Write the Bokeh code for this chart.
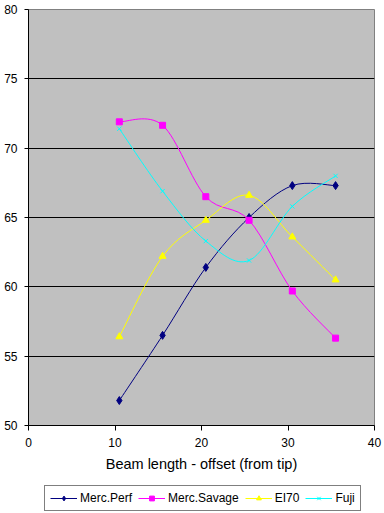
from bokeh.plotting import figure
from bokeh.models import Range1d, FixedTicker, Legend, LegendItem
from bokeh.layouts import column
from bokeh.embed import file_html
from bokeh.resources import INLINE

# ---- data ----
beam_x = [10.5, 15.5, 20.5, 25.5, 30.5, 35.5]
merc_perf = [51.8, 56.5, 61.4, 65.0, 67.3, 67.3]
merc_savage = [71.9, 71.65, 66.5, 64.8, 59.7, 56.3]
ei70 = [56.4, 62.2, 64.8, 66.6, 63.6, 60.5]
fuji = [71.4, 66.9, 63.3, 61.9, 65.8, 68.0]
series_names = ["Merc.Perf", "Merc.Savage", "EI70", "Fuji"]
x_ticks = [0, 10, 20, 30, 40]
y_ticks = [50, 55, 60, 65, 70, 75, 80]
grid_ticks = [55, 60, 65, 70, 75]

FONT = "Liberation Sans"


def smooth_segments(xs, ys):
    """Bezier segments (Catmull-Rom style, like a spreadsheet's smoothed line)."""
    n = len(xs)
    out = dict(x0=[], y0=[], x1=[], y1=[], cx0=[], cy0=[], cx1=[], cy1=[])
    for i in range(n - 1):
        a = i - 1 if i > 0 else i
        d = i + 2 if i + 2 < n else i + 1
        out["x0"].append(xs[i]); out["y0"].append(ys[i])
        out["x1"].append(xs[i + 1]); out["y1"].append(ys[i + 1])
        out["cx0"].append(xs[i] + (xs[i + 1] - xs[a]) / 6.0)
        out["cy0"].append(ys[i] + (ys[i + 1] - ys[a]) / 6.0)
        out["cx1"].append(xs[i + 1] - (xs[d] - xs[i]) / 6.0)
        out["cy1"].append(ys[i + 1] - (ys[d] - ys[i]) / 6.0)
    return out


p = figure(width=384, height=475,
           output_backend="svg", toolbar_location=None,
           x_range=Range1d(0, 40), y_range=Range1d(50, 80),
           min_border_left=28, min_border_right=10, min_border_top=9,
           min_border_bottom=50)

p.background_fill_color = "#C0C0C0"
p.border_fill_color = "white"
p.outline_line_color = "#808080"
p.outline_line_width = 1

p.xgrid.visible = False
p.ygrid.ticker = FixedTicker(ticks=grid_ticks)
p.ygrid.grid_line_color = "black"
p.ygrid.grid_line_width = 1

for ax in (p.xaxis[0], p.yaxis[0]):
    ax.axis_line_color = "black"
    ax.major_tick_line_color = "black"
    ax.minor_tick_line_color = None
    ax.major_tick_in = 0
    ax.major_label_text_font = FONT
    ax.major_label_text_font_size = "12px"
    ax.major_label_text_color = "black"

p.xaxis[0].ticker = FixedTicker(ticks=x_ticks)
p.yaxis[0].ticker = FixedTicker(ticks=y_ticks)
p.xaxis[0].major_tick_out = 5
p.yaxis[0].major_tick_out = 4
p.xaxis[0].major_label_standoff = 7
p.yaxis[0].major_label_standoff = 7
p.xaxis[0].axis_label = "Beam length - offset (from tip)"
p.xaxis[0].axis_label_text_font = FONT
p.xaxis[0].axis_label_text_font_size = "14.5px"
p.xaxis[0].axis_label_text_font_style = "normal"
p.xaxis[0].axis_label_text_color = "black"
p.xaxis[0].axis_label_standoff = 6

styles = [
    ("#000080", "diamond", 8),
    ("#FF00FF", "square", 6),
    ("#FFFF00", "triangle", 7),
    ("#00FFFF", "x", 6),
]
all_series = [merc_perf, merc_savage, ei70, fuji]

# legend strip (a second, axis-less figure under the chart)
lf = figure(width=384, height=38, output_backend="svg", toolbar_location=None,
            x_range=Range1d(-200, -199), y_range=Range1d(-200, -199),
            min_border=0, x_axis_type=None, y_axis_type=None)
lf.outline_line_color = None
lf.background_fill_color = "white"
lf.border_fill_color = "white"
lf.xgrid.visible = False
lf.ygrid.visible = False

items = []
for name, ys, (color, marker, size) in zip(series_names, all_series, styles):
    seg = smooth_segments(beam_x, ys)
    p.bezier(x0=seg["x0"], y0=seg["y0"], x1=seg["x1"], y1=seg["y1"],
             cx0=seg["cx0"], cy0=seg["cy0"], cx1=seg["cx1"], cy1=seg["cy1"],
             line_color=color, line_width=1)
    p.scatter(x=beam_x, y=ys, marker=marker, size=size,
              fill_color=color, line_color=color, line_width=1)
    # same series in the legend strip (outside its visible range) for legend keys
    lr = lf.line(x=beam_x, y=ys, line_color=color, line_width=1)
    ls = lf.scatter(x=beam_x, y=ys, marker=marker, size=size,
                    fill_color=color, line_color=color, line_width=1)
    items.append(LegendItem(label=name, renderers=[lr, ls]))

legend = Legend(items=items, orientation="horizontal", location=(16, 2),
                border_line_color="black", border_line_width=1,
                background_fill_color="white", background_fill_alpha=1,
                label_text_font=FONT, label_text_font_size="12px",
                label_text_color="black",
                glyph_width=27, glyph_height=12, label_height=12,
                label_standoff=3, spacing=6, padding=5, margin=0)
lf.add_layout(legend, "center")

layout = column(p, lf, spacing=0)
open("out.html", "w").write(file_html(layout, INLINE))
